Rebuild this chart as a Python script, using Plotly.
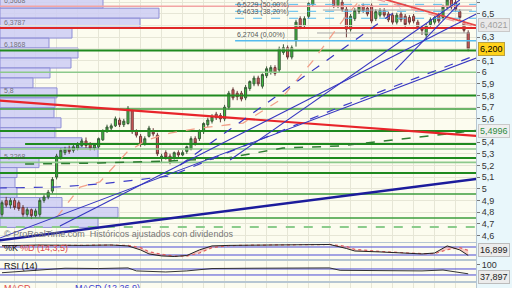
import plotly.graph_objects as go

# ---------------- DATA ----------------
idx = list(range(112))
opens = [4.78,4.90,4.86,4.90,4.88,4.84,4.78,4.82,4.77,4.78,4.90,4.93,4.98,5.10,5.27,5.31,5.34,5.33,5.35,5.37,
         5.41,5.38,5.35,5.36,5.42,5.49,5.52,5.54,5.59,5.55,5.56,5.67,5.49,5.45,5.38,5.45,5.50,5.46,5.26,5.31,
         5.28,5.27,5.31,5.29,5.32,5.34,5.43,5.43,5.49,5.55,5.58,5.64,5.63,5.60,5.70,5.85,5.82,5.82,5.78,5.86,
         5.90,5.95,5.88,5.97,6.00,6.04,6.02,6.17,6.21,6.13,6.27,6.46,6.40,6.48,6.58,6.66,6.74,6.68,6.72,6.63,
         6.57,6.60,6.54,6.37,6.46,6.52,6.57,6.55,6.57,6.46,6.49,6.53,6.50,6.49,6.43,6.50,6.48,6.47,6.48,6.43,
         6.38,6.32,6.41,6.43,6.49,6.47,6.56,6.62,6.60,6.52,6.42,6.34]
highs = [4.90,4.93,4.92,4.92,4.90,4.86,4.84,4.83,4.83,4.92,4.95,4.99,5.10,5.30,5.35,5.36,5.37,5.38,5.40,5.43,
         5.44,5.40,5.39,5.44,5.51,5.55,5.56,5.62,5.61,5.60,5.71,5.68,5.51,5.47,5.45,5.54,5.52,5.48,5.30,5.33,
         5.30,5.32,5.33,5.33,5.37,5.45,5.45,5.51,5.57,5.61,5.64,5.66,5.65,5.72,5.84,5.87,5.84,5.84,5.89,5.93,
         5.97,5.97,5.99,6.05,6.06,6.06,6.22,6.24,6.23,6.23,6.45,6.48,6.48,6.60,6.68,6.74,6.77,6.78,6.74,6.66,
         6.66,6.62,6.56,6.50,6.55,6.58,6.59,6.57,6.59,6.54,6.55,6.55,6.52,6.51,6.51,6.52,6.50,6.49,6.50,6.45,
         6.40,6.42,6.47,6.49,6.51,6.58,6.64,6.64,6.62,6.54,6.44,6.36]
lows = [4.76,4.84,4.83,4.82,4.81,4.76,4.76,4.74,4.75,4.76,4.88,4.91,4.96,5.08,5.25,5.29,5.30,5.31,5.33,5.36,
        5.35,5.33,5.33,5.34,5.41,5.48,5.50,5.53,5.53,5.53,5.55,5.47,5.44,5.36,5.37,5.44,5.45,5.28,5.22,5.25,
        5.21,5.25,5.27,5.28,5.30,5.33,5.37,5.41,5.47,5.53,5.56,5.59,5.57,5.58,5.68,5.76,5.76,5.75,5.76,5.84,
        5.88,5.88,5.86,5.95,5.98,5.97,6.00,6.15,6.11,6.11,6.22,6.37,6.38,6.46,6.56,6.64,6.67,6.66,6.62,6.55,
        6.55,6.52,6.30,6.35,6.44,6.50,6.51,6.48,6.42,6.44,6.47,6.47,6.43,6.41,6.41,6.43,6.39,6.41,6.42,6.37,
        6.32,6.28,6.39,6.41,6.42,6.45,6.54,6.54,6.52,6.45,6.34,6.18]
closes = [4.88,4.86,4.90,4.84,4.83,4.78,4.82,4.77,4.81,4.90,4.93,4.97,5.08,5.28,5.33,5.34,5.32,5.36,5.38,5.41,
          5.37,5.35,5.38,5.43,5.50,5.53,5.54,5.60,5.55,5.58,5.69,5.49,5.46,5.38,5.43,5.52,5.47,5.30,5.28,5.27,
          5.23,5.31,5.29,5.31,5.36,5.43,5.39,5.50,5.56,5.59,5.62,5.61,5.60,5.70,5.82,5.78,5.79,5.77,5.87,5.92,
          5.95,5.90,5.98,6.03,6.04,5.99,6.20,6.21,6.13,6.21,6.43,6.39,6.46,6.59,6.67,6.72,6.69,6.76,6.64,6.57,
          6.64,6.54,6.37,6.48,6.53,6.56,6.53,6.50,6.44,6.52,6.53,6.49,6.45,6.43,6.49,6.45,6.41,6.43,6.44,6.39,
          6.36,6.40,6.45,6.47,6.44,6.56,6.62,6.56,6.54,6.47,6.36,6.20]

# price-axis tick labels shown (others are hidden behind value boxes)
price_ticks = [6.6, 6.5, 6.3, 6.1, 6.0, 5.9, 5.8, 5.7, 5.6, 5.4, 5.3, 5.2, 5.1, 5.0, 4.9, 4.8, 4.7, 4.6]
grid_levels = [6.4, 6.2, 5.5]

# volume profile (price bin centres, volume in thousands)
vp_price = [6.592,6.507,6.421,6.336,6.250,6.165,6.079,5.994,5.908,5.823,5.737,5.652,5.566,5.481,5.395,
            5.310,5.224,5.139,5.053,4.968,4.882,4.797,4.711]
vp_volume = [103,159,140,72,49,78,71,50,33,57,55,54,61,55,82,98,39,17,15,17,62,118,98]
vp_bin = 0.0855
vp_labels = [6.5668, 6.3787, 6.1868, 5.8, 5.2268]

# horizontal support / resistance levels
support_levels = [6.1868, 6.0, 5.8, 5.685, 5.496, 5.384, 5.341, 5.264, 5.2268, 5.135, 4.955, 4.749]
support_start = [-1, -1, -1, -1, -1, 5.5, -1, -1, -1, -1, -1, -1]
support_kind = ["dark", "light", "dark", "mid", "dark", "dark", "light", "dark", "light", "dark", "mid", "mid"]
dashed_support = 4.672
resist_levels = [6.5668, 6.3787]

# fibonacci retracement
fib_levels = [6.5825, 6.5229, 6.4633, 6.2704]
fib_text = ["6,5825 (61,80%)", "6,5229 (50,00%)", "6,4633 (38,20%)", "6,2704 (0,00%)"]
fib_start = 55.5

# trend lines (index, price)
red_main_x, red_main_y = [-1, 113], [5.757, 5.453]
red_top_x, red_top_y = [80, 112.86], [6.740, 6.4021]
pink_top_x, pink_top_y = [85, 113], [6.668, 6.386]
navy_x, navy_y = [-1, 113], [4.555, 5.085]
s1_x, s1_y = [-1, 113], [4.570, 6.123]
s2_x, s2_y = [13.8, 113], [4.680, 6.502]
s3_x, s3_y = [54.3, 109], [5.247, 6.620]
s4_x, s4_y = [93.6, 109], [6.019, 6.594]
d1_x, d1_y = [42.4, 94.8], [5.204, 6.552]
gray_lv = [6.534, 6.337]
gray_x0 = [76.4, 75.0]
gray_x1 = [111.9, 111.4]

# moving averages
ma_blue_x = [-1, 13.1, 23.3, 40, 80.5, 113]
ma_blue_y = [5.006, 5.015, 5.041, 5.109, 5.702, 6.148]
ma_green_x = [5.5, 23.3, 40, 53.6, 66.9, 80.5, 112.86]
ma_green_y = [5.212, 5.221, 5.238, 5.264, 5.350, 5.367, 5.4996]
ma_salmon_x = [13.1, 18.6, 23.3, 29.8, 34.5, 36.9, 40, 47.1, 57.4, 66.2, 74.0, 82.1, 86.4]
ma_salmon_y = [4.758, 5.015, 5.058, 5.315, 5.418, 5.444, 5.478, 5.521, 5.564, 5.762, 6.097, 6.491, 6.663]

# stochastic
st_x = [0, 9, 19, 26, 30, 33, 35, 38, 41, 44, 47, 50, 54, 60, 71, 78, 82, 84, 90, 95, 100, 103, 106, 109, 111]
st_k = [90, 95, 92, 95, 88, 58, 28, 13, 9, 16, 58, 88, 92, 95, 99, 99, 69, 50, 43, 35, 28, 35, 88, 58, 16.9]
st_d = [88, 93, 93, 94, 92, 75, 45, 25, 12, 12, 35, 75, 90, 94, 98, 99, 85, 62, 47, 38, 30, 30, 60, 75, 55]
st_levels = [20, 80]

# RSI
rsi_x = [0, 7, 15, 23, 30, 32, 38, 39, 44, 50, 60, 71, 78, 80.5, 90, 100, 105, 111]
rsi_v = [45, 57, 75, 73, 77, 57, 53, 50, 57, 73, 75, 77, 77, 61, 60, 57, 63, 37.9]
rsi_levels = [30, 70]

# ---------------- FIGURE ----------------
W, H = 512, 288
PW = 476  # plot-area width in px
XR = [-0.476, 112.857]
FONT = "Liberation Sans, Arial, sans-serif"
GRID = "#e6e6d6"
BORDER = "#b6c6d2"


def py(px):
    return 1 - px / H


def pxx(px):
    return px / PW


fig = go.Figure()

# volume profile on base subplot
fig.add_trace(go.Bar(orientation="h", y=vp_price, x=vp_volume, width=vp_bin, base=0,
                     marker=dict(color="rgba(204,204,244,0.85)", line=dict(color="#8e8ed6", width=1)),
                     xaxis="x", yaxis="y", hoverinfo="skip"))

# candles
fig.add_trace(go.Candlestick(x=idx, open=opens, high=highs, low=lows, close=closes,
                             increasing=dict(fillcolor="#3fc43f", line=dict(color="#3a5a3a", width=1)),
                             decreasing=dict(fillcolor="#e25a5a", line=dict(color="#6a3a3a", width=1)),
                             whiskerwidth=0, xaxis="x2", yaxis="y"))


def line(xs, ys, color, width=1, dash="solid", xa="x2", ya="y"):
    fig.add_trace(go.Scatter(x=xs, y=ys, mode="lines", line=dict(color=color, width=width, dash=dash),
                             xaxis=xa, yaxis=ya, hoverinfo="skip"))


# grid lines hidden by the value boxes' missing tick labels
for lv in grid_levels:
    line([-1, 114], [lv, lv], GRID, 1)

styles = {"dark": ("#1f8a1f", 2), "light": ("#8cc98c", 1.6), "mid": ("#3e9e3e", 1.5)}
for lv, st, kd in zip(support_levels, support_start, support_kind):
    c, w = styles[kd]
    line([st, 114], [lv, lv], c, w)
line([-1, 114], [dashed_support] * 2, "#8ccc8c", 2, "dash")

line([-1, 114], [resist_levels[0]] * 2, "#f2a4a4", 1.6)
line([-1, 114], [resist_levels[1]] * 2, "#e02828", 2)

for lv in fib_levels[:3]:
    line([fib_start, 114], [lv, lv], "#55bbee", 1, "dash")
line([fib_start, 114], [fib_levels[3]] * 2, "#55bbee", 1.5)

for lv, a, b in zip(gray_lv, gray_x0, gray_x1):
    line([a, b], [lv, lv], "#a8a8a8", 1)

line(ma_green_x, ma_green_y, "#2e7d32", 1.5, "dash")
line(ma_salmon_x, ma_salmon_y, "#f2a08a", 1.3, "dash")
line(ma_blue_x, ma_blue_y, "#3b3bc8", 1.2, "dash")

line(red_main_x, red_main_y, "#e8242a", 2.2)
line(red_top_x, red_top_y, "#e84848", 1.8)
line(pink_top_x, pink_top_y, "#f0a0a0", 1.3, "dash")
line(navy_x, navy_y, "#1c1c9c", 2.5)
line(s1_x, s1_y, "#3535c0", 1.1)
line(s2_x, s2_y, "#3535c0", 1.1)
line(s3_x, s3_y, "#3535c0", 1.1)
line(s4_x, s4_y, "#3535c0", 1.1)
line(d1_x, d1_y, "#3535c0", 1.2, "dash")

# stochastic panel
for lv in st_levels:
    line([-1, 114], [lv, lv], "#4a4ad6", 1, xa="x3", ya="y2")
line(st_x, st_d, "#e06060", 1.2, "dot", xa="x3", ya="y2")
fig.add_trace(go.Scatter(x=st_x, y=st_k, mode="lines", line=dict(color="#222222", width=1),
                         fill="tonexty", fillcolor="rgba(240,130,130,0.4)",
                         xaxis="x3", yaxis="y2", hoverinfo="skip"))

# RSI panel
for lv in rsi_levels:
    line([-1, 114], [lv, lv], "#4a4ad6", 1, xa="x4", ya="y3")
line(rsi_x, rsi_v, "#333333", 1, xa="x4", ya="y3")

# MACD panel (only its top edge visible)
line([-1, 114], [0, 0], "rgba(0,0,0,0)", 1, xa="x5", ya="y4")

xcommon = dict(domain=[0, 1], range=XR, showticklabels=False, showgrid=True, gridcolor=GRID,
               tick0=3, dtick=5, ticks="", zeroline=False, showline=True, mirror=True,
               linecolor=BORDER, fixedrange=True)
ycommon = dict(side="right", showgrid=False, zeroline=False, showline=True, mirror=True,
               linecolor=BORDER, fixedrange=True)

fig.update_layout(
    width=W, height=H, margin=dict(l=0, r=W - PW, t=0, b=0),
    paper_bgcolor="#e9f7fb", plot_bgcolor="#fcfcef", showlegend=False,
    separators=",.", font=dict(family=FONT, size=9, color="#333"),
    xaxis=dict(domain=[0, 1], range=[0, PW], visible=False, anchor="y", fixedrange=True),
    yaxis=dict(domain=[py(242), 1], range=[4.543, 6.620], anchor="x", side="right",
               tickvals=price_ticks, showgrid=True, gridcolor=GRID, ticks="outside", ticklen=3,
               tickcolor="#777", tickfont=dict(size=9, color="#333"), zeroline=False,
               showline=True, mirror=True, linecolor=BORDER, fixedrange=True),
    xaxis2=dict(xcommon, overlaying="x", anchor="y", rangeslider=dict(visible=False)),
    xaxis3=dict(xcommon, anchor="y2"),
    yaxis2=dict(ycommon, domain=[py(259), py(243)], range=[-10, 110], anchor="x3", showticklabels=False),
    xaxis4=dict(xcommon, anchor="y3"),
    yaxis3=dict(ycommon, domain=[py(281), py(261)], range=[-10, 123], anchor="x4",
                tickvals=[100], ticks="outside", ticklen=3, tickcolor="#777",
                tickfont=dict(size=9, color="#333")),
    xaxis5=dict(xcommon, anchor="y4"),
    yaxis4=dict(ycommon, domain=[0, py(283)], range=[-1, 1], anchor="x5", showticklabels=False),
)

ann = []
# right side value boxes
box = dict(xref="paper", showarrow=False, xanchor="left", yanchor="middle", borderpad=1)
ann.append(dict(box, x=pxx(478), y=red_top_y[1], yref="y", text="6,4021", bgcolor="#e9e9e9",
                bordercolor="#c9c9c9", font=dict(size=9, color="#a0a0a0")))
ann.append(dict(box, x=pxx(478), y=closes[-1], yref="y", text="6,200", bgcolor="#ffd21a",
                bordercolor="#b8a040", font=dict(size=9, color="#000")))
ann.append(dict(box, x=pxx(478), y=ma_green_y[-1], yref="y", text="5,4996", bgcolor="#efefef",
                bordercolor="#c9c9c9", font=dict(size=9, color="#2e8b3e")))
ann.append(dict(box, x=pxx(478), y=py(250), yref="paper", text="16,899", bgcolor="#ececec",
                bordercolor="#bcbcbc", font=dict(size=9, color="#222")))
ann.append(dict(box, x=pxx(478), y=py(276.5), yref="paper", text="37,897", bgcolor="#ececec",
                bordercolor="#bcbcbc", font=dict(size=9, color="#222")))
# volume profile labels
for lv in vp_labels:
    ann.append(dict(x=pxx(2), xref="paper", y=lv, yref="y", text=f"{lv:g}".replace(".", ","),
                    showarrow=False, xanchor="left", yanchor="bottom",
                    font=dict(size=7, color="rgba(80,80,80,0.75)")))
# fib labels
for lv, t in zip(fib_levels, fib_text):
    ann.append(dict(x=fib_start, xref="x2", y=lv, yref="y", text=t, showarrow=False,
                    xanchor="left", yanchor="bottom", font=dict(size=7, color="#555")))
# texts
txt = dict(xref="paper", yref="paper", showarrow=False, xanchor="left", yanchor="middle")
ann.append(dict(txt, x=pxx(2), y=py(234), text="© ProRealTime.com  Históricos ajustados con dividendos",
                font=dict(size=9, color="#777")))
ann.append(dict(txt, x=pxx(2), y=py(247.5), text="%K", font=dict(size=9, color="#111")))
ann.append(dict(txt, x=pxx(18), y=py(247.5), text="%D (14,3,5)", font=dict(size=9, color="#e04a4a")))
ann.append(dict(txt, x=pxx(2), y=py(265.5), text="RSI (14)", font=dict(size=9, color="#111")))
ann.append(dict(txt, x=pxx(2), y=py(287.5), text="MACD", font=dict(size=9, color="#e04a4a")))
ann.append(dict(txt, x=pxx(73), y=py(287.5), text="MACD (12,26,9)", font=dict(size=9, color="#3a3ad0")))
fig.update_layout(annotations=ann)

fig.write_html("out.html")
